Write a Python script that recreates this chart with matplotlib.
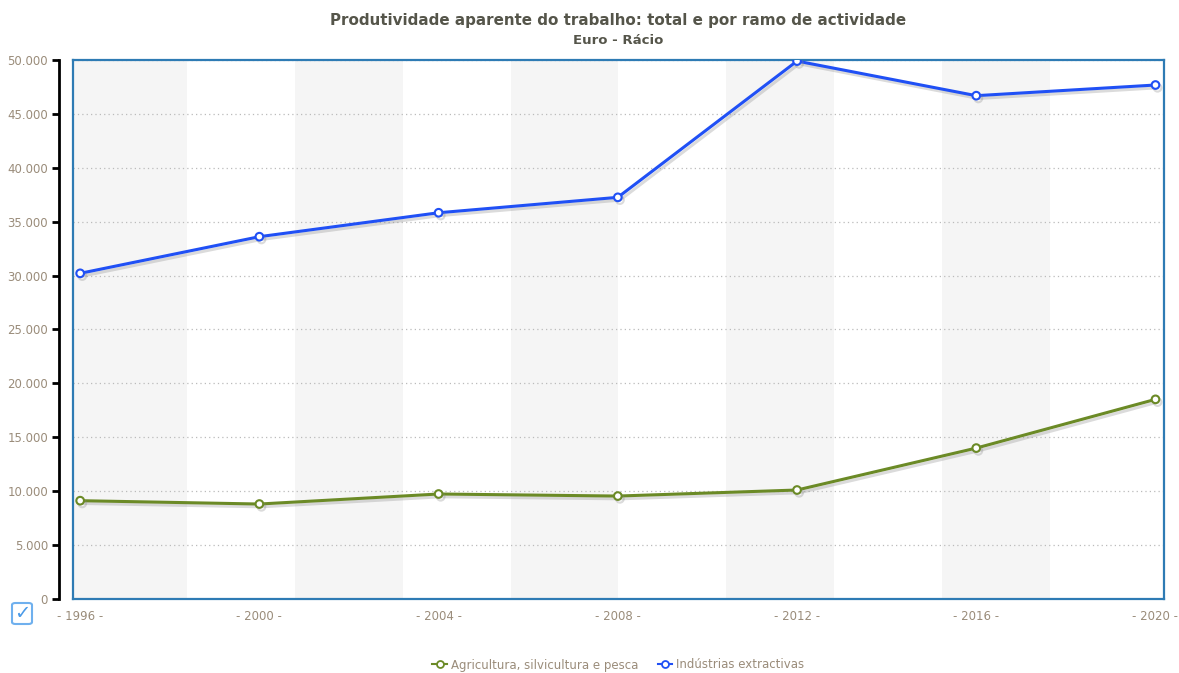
import numpy as np
import matplotlib
matplotlib.use("Agg")
import matplotlib.pyplot as plt
import matplotlib.patheffects as pe
from matplotlib.lines import Line2D
from matplotlib.patches import FancyBboxPatch
from matplotlib.ticker import FuncFormatter

plt.rcParams['font.family'] = ['DejaVu Sans']

# dados (Euro)
anos = [1996, 2000, 2004, 2008, 2012, 2016, 2020]
agricultura = [9120, 8810, 9740, 9550, 10110, 14000, 18520]
extractivas = [30210, 33610, 35830, 37260, 49900, 46690, 47680]
series_nomes = ['Agricultura, silvicultura e pesca', 'Indústrias extractivas']
cores = ['#6b8a26', '#2050f5']

titulo = 'Produtividade aparente do trabalho: total e por ramo de actividade'
subtitulo = 'Euro - Rácio'

cor_texto = '#9a8c7a'
cor_moldura = '#2e7bb4'

W, H = 1179, 673
fig = plt.figure(figsize=(W / 100, H / 100), dpi=100)
ax = fig.add_axes([73 / W, 1 - 599 / H, (1164 - 73) / W, (599 - 60) / H])
centro = (73 + 1164) / 2 / W

ax.set_xlim(1995.84, 2020.19)
ax.set_ylim(0, 50000)

# faixas alternadas de fundo
largura = 2.405
inicio = 1995.99
for k in range(5):
    a = inicio + 2 * k * largura
    ax.axvspan(max(a - 0.5, 1995.84) if k == 0 else a, a + largura,
               color='#f5f5f5', lw=0, zorder=0)

# grelha horizontal pontilhada
for v in range(5000, 50001, 5000):
    ax.axhline(v, color='#bbbbbb', lw=0.9, ls=(0, (1, 2.5)), zorder=1)

sombra = [pe.SimpleLineShadow(offset=(1.5, -2), shadow_color='#888888', alpha=0.3),
          pe.Normal()]
for vals, cor in zip([agricultura, extractivas], cores):
    ax.plot(anos, vals, color=cor, lw=2.2, marker='o', ms=5.5,
            mfc='white', mec=cor, mew=1.5, zorder=3, path_effects=sombra)

# eixos
for s in ['top', 'right', 'bottom']:
    ax.spines[s].set_color(cor_moldura)
    ax.spines[s].set_linewidth(1.6)
ax.spines['left'].set_position(('outward', 10))
ax.spines['left'].set_color('black')
ax.spines['left'].set_linewidth(2)
ax.plot([0, 0], [0, 1], transform=ax.transAxes, color=cor_moldura, lw=1.6,
        clip_on=False, zorder=5)

ax.set_yticks(range(0, 50001, 5000))
ax.yaxis.set_major_formatter(FuncFormatter(lambda v, p: f'{int(v):,}'.replace(',', '.')))
ax.tick_params(axis='y', length=5, width=2, color='black', labelcolor=cor_texto,
               labelsize=8.5, pad=3)
ax.set_xticks(anos)
ax.set_xticklabels([f'- {a} -' for a in anos])
ax.tick_params(axis='x', length=0, labelcolor=cor_texto, labelsize=8.5, pad=8)

# título
fig.text(centro, 1 - 21 / H, titulo, ha='center', va='center', fontsize=10.9,
         fontweight='bold', color='#55554a')
fig.text(centro, 1 - 40 / H, subtitulo, ha='center', va='center', fontsize=9.5,
         fontweight='bold', color='#55554a')

# legenda
handles = [Line2D([], [], color=c, lw=1.5, marker='o', ms=5, mfc='white', mec=c, mew=1.3)
           for c in cores]
fig.legend(handles, series_nomes, loc='center', bbox_to_anchor=(centro, 1 - 665 / H),
           ncol=2, frameon=False, fontsize=8.5, labelcolor=cor_texto,
           handlelength=1.2, handletextpad=0.4, columnspacing=1.6)

# caixa de seleção
caixa = FancyBboxPatch((12 / W, 1 - 624 / H), 20 / W, 21 / H,
                       boxstyle='round,pad=0,rounding_size=0.003',
                       transform=fig.transFigure, fc='white', ec='#6fb0ee', lw=1.5)
fig.patches.append(caixa)
fig.text(22 / W, 1 - 613.5 / H, '✓', ha='center', va='center', fontsize=14,
         color='#4a9ae8')

fig.savefig('out.png', dpi=100)
